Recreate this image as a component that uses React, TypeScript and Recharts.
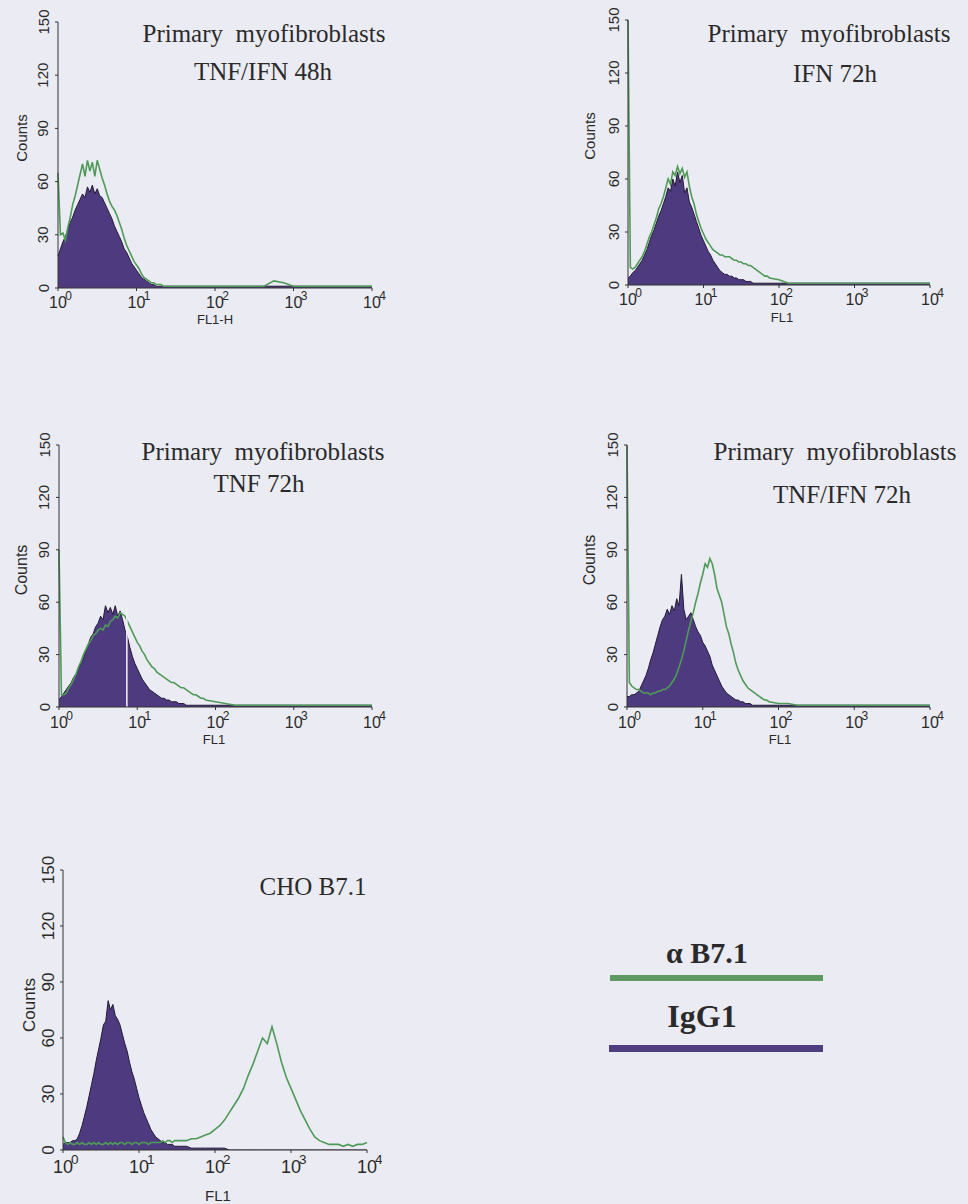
import { Area, ComposedChart, Line, ReferenceLine, XAxis, YAxis } from "recharts";

const BG = "#ebebf3";
const GREEN = "#4f9a58";
const PURPLE = "#4e3a7e";
const OUTLINE = "#241a36";
const INK = "#2a2a2a";
const SANS = '"Liberation Sans Narrow", "Arial Narrow", "Liberation Sans", Arial, sans-serif';
const SERIF = '"Liberation Serif", "Times New Roman", serif';

// y ticks (counts) and x ticks (channel of each decade, 10^0 .. 10^4)
const COUNT_TICKS = [0, 30, 60, 90, 120, 150];
const DECADE_TICKS = [0, 256, 512, 768, 1024];
const DECADE_EXP = ["0", "1", "2", "3", "4"];

// channels for the myofibroblast panels
const CH_A = [
  0, 8, 16, 24, 32, 40, 48, 56, 64, 72, 80, 88, 96, 104, 112, 120, 128, 136, 144, 152,
  160, 168, 176, 184, 192, 200, 208, 216, 224, 232, 240, 248, 256, 264, 272, 280, 288, 296, 304, 312,
  320, 328, 336, 344, 352, 360, 368, 376, 384, 392, 400, 408, 416, 424, 432, 440, 448, 456, 464, 472,
  480, 512, 544, 576, 608, 640, 672, 704, 736, 768, 800, 832, 864, 896, 928, 960, 992, 1024,
];

// channels for the CHO panel
const CH_B = [
  0, 8, 16, 24, 32, 40, 48, 56, 64, 72, 80, 88, 96, 104, 112, 120, 128, 136, 144, 152,
  160, 168, 176, 184, 192, 200, 208, 216, 224, 232, 240, 248, 256, 264, 272, 280, 288, 296, 304, 312,
  320, 328, 336, 344, 352, 360, 368, 376, 384, 392, 400,
  416, 432, 448, 464, 480, 496, 512, 528, 544, 560, 576, 592, 608, 624, 640, 656, 672, 688, 704, 720,
  736, 752, 768, 784, 800, 816, 832, 848, 864, 880, 896, 912, 928, 944, 960, 976, 992, 1008, 1024,
];

// TNF/IFN 48h
const P1_IGG = [
  18, 22, 26, 29, 33, 37, 40, 44, 47, 50, 53, 51, 57, 54, 58, 53, 56, 52, 51, 48,
  45, 42, 39, 35, 32, 29, 26, 22, 20, 17, 14, 12, 10, 8, 6, 5, 4, 3, 2, 2,
  1, 1, 1, 1, 1, 1, 1, 1, 1, 1, 1, 1, 1, 1, 1, 1, 1, 1, 1, 1,
  1, 1, 1, 1, 1, 1, 1, 1, 1, 1, 1, 1, 1, 1, 1, 1, 1, 1,
];
const P1_B71 = [
  65, 30, 31, 27, 34, 40, 47, 52, 58, 64, 70, 63, 72, 66, 71, 63, 72, 67, 62, 58,
  53, 49, 46, 44, 41, 37, 33, 28, 24, 21, 18, 15, 13, 11, 8, 6, 5, 4, 3, 3,
  2, 2, 2, 1, 1, 1, 1, 1, 1, 1, 1, 1, 1, 1, 1, 1, 1, 1, 1, 1,
  1, 1, 1, 1, 1, 1, 1, 4, 3, 1, 1, 1, 1, 1, 1, 1, 1, 1,
];

// IFN 72h
const P2_IGG = [
  4, 5, 7, 8, 10, 12, 14, 17, 20, 24, 28, 31, 35, 39, 42, 46, 50, 55, 53, 60,
  56, 64, 58, 62, 52, 55, 47, 44, 40, 36, 32, 28, 25, 22, 19, 17, 14, 12, 10, 8,
  7, 6, 6, 5, 5, 4, 4, 3, 3, 3, 2, 2, 2, 1, 1, 1, 1, 1, 1, 1,
  1, 1, 1, 1, 1, 1, 1, 1, 1, 1, 1, 1, 1, 1, 1, 1, 1, 1,
];
const P2_B71 = [
  150, 10, 9, 10, 12, 14, 16, 19, 23, 27, 30, 34, 38, 43, 46, 50, 55, 60, 57, 64,
  62, 67, 63, 66, 61, 64, 56, 50, 46, 40, 36, 32, 29, 26, 24, 22, 20, 19, 18, 17,
  17, 16, 16, 16, 15, 14, 14, 13, 13, 12, 12, 11, 11, 10, 9, 8, 7, 6, 5, 5,
  4, 3, 1, 1, 1, 1, 1, 1, 1, 1, 1, 1, 1, 1, 1, 1, 1, 1,
];

// TNF 72h
const P3_IGG = [
  4, 6, 8, 10, 12, 14, 17, 19, 22, 25, 28, 32, 36, 40, 42, 46, 48, 52, 50, 58,
  54, 57, 53, 58, 52, 55, 50, 44, 40, 34, 29, 25, 22, 19, 16, 14, 12, 10, 9, 8,
  7, 6, 5, 5, 4, 4, 3, 3, 3, 2, 2, 2, 1, 1, 1, 1, 1, 1, 1, 1,
  1, 1, 1, 1, 1, 1, 1, 1, 1, 1, 1, 1, 1, 1, 1, 1, 1, 1,
];
const P3_B71 = [
  90, 7, 7, 8, 11, 13, 16, 19, 23, 26, 30, 33, 36, 38, 41, 42, 44, 45, 44, 47,
  46, 49, 50, 52, 51, 54, 53, 52, 49, 46, 43, 40, 37, 35, 32, 30, 27, 25, 23, 22,
  20, 19, 18, 17, 16, 15, 14, 14, 13, 12, 11, 11, 10, 9, 8, 7, 7, 6, 5, 5,
  4, 3, 2, 1, 1, 1, 1, 1, 1, 1, 1, 1, 1, 1, 1, 1, 1, 1,
];

// TNF/IFN 72h
const P4_IGG = [
  6, 6, 7, 7, 8, 9, 12, 15, 18, 22, 27, 31, 36, 41, 46, 50, 52, 56, 53, 58,
  55, 62, 58, 76, 56, 50, 52, 54, 50, 46, 43, 41, 37, 35, 32, 29, 24, 21, 18, 15,
  12, 10, 8, 7, 6, 5, 4, 4, 3, 3, 2, 2, 2, 1, 1, 1, 1, 1, 1, 1,
  1, 1, 1, 1, 1, 1, 1, 1, 1, 1, 1, 1, 1, 1, 1, 1, 1, 1,
];
const P4_B71 = [
  150, 14, 12, 11, 10, 10, 9, 8, 8, 8, 7, 8, 8, 9, 9, 10, 10, 11, 12, 14,
  16, 19, 23, 27, 32, 38, 44, 49, 54, 60, 65, 71, 76, 82, 80, 85, 82, 76, 68, 64,
  60, 53, 46, 42, 36, 31, 25, 21, 18, 15, 13, 11, 10, 9, 8, 7, 6, 5, 4, 4,
  3, 2, 2, 1, 1, 1, 1, 1, 1, 1, 1, 1, 1, 1, 1, 1, 1, 1,
];

// CHO B7.1
const P5_IGG = [
  3, 4, 4, 4, 5, 5, 6, 9, 13, 18, 23, 29, 35, 41, 48, 54, 60, 67, 69, 80,
  75, 78, 72, 70, 67, 62, 57, 53, 47, 42, 38, 33, 28, 24, 20, 17, 14, 11, 9, 7,
  6, 5, 4, 4, 3, 3, 3, 2, 2, 2, 2,
  2, 1, 1, 1, 1, 1, 1, 1, 1, 0, 0, 0, 0, 0, 0, 0, 0, 0, 0, 0,
  0, 0, 0, 0, 0, 0, 0, 0, 0, 0, 0, 0, 0, 0, 0, 0, 0, 0, 0,
];
const P5_B71 = [
  7, 4, 3, 4, 3, 3, 4, 3, 4, 3, 3, 4, 3, 4, 3, 4, 3, 3, 4, 3,
  4, 3, 4, 3, 4, 4, 3, 4, 4, 3, 4, 4, 3, 4, 4, 4, 3, 4, 4, 4,
  4, 4, 5, 4, 5, 5, 4, 5, 5, 5, 5,
  5, 6, 6, 7, 8, 9, 11, 13, 16, 20, 24, 28, 33, 40, 46, 53, 60, 57, 66, 57,
  47, 39, 33, 27, 21, 16, 11, 7, 5, 4, 3, 3, 3, 2, 3, 2, 3, 3, 4,
];

type Panel = {
  chs: number[];
  igg: number[];
  b71: number[];
  x0: number;
  x1: number;
  yTop: number;
  yBase: number;
  tickFont: number;
  tickDrop: number;
  xLabel: string;
  xLabelPos: [number, number];
  xLabelFont: number;
  countsPos: [number, number];
  countsFont: number;
  title: { text: string; cx: number; base: number }[];
  artifact?: number;
};

const PANELS: Panel[] = [
  {
    chs: CH_A, igg: P1_IGG, b71: P1_B71,
    x0: 58, x1: 372, yTop: 22, yBase: 288, tickFont: 16, tickDrop: 14,
    xLabel: "FL1-H", xLabelPos: [215, 320], xLabelFont: 13,
    countsPos: [22, 138], countsFont: 15,
    title: [
      { text: "Primary  myofibroblasts", cx: 264, base: 42 },
      { text: "TNF/IFN 48h", cx: 263, base: 80 },
    ],
  },
  {
    chs: CH_A, igg: P2_IGG, b71: P2_B71,
    x0: 628, x1: 930, yTop: 20, yBase: 285, tickFont: 16, tickDrop: 14,
    xLabel: "FL1", xLabelPos: [782, 318], xLabelFont: 13,
    countsPos: [590, 136], countsFont: 15,
    title: [
      { text: "Primary  myofibroblasts", cx: 829, base: 42 },
      { text: "IFN 72h", cx: 835, base: 82 },
    ],
  },
  {
    chs: CH_A, igg: P3_IGG, b71: P3_B71,
    x0: 59, x1: 372, yTop: 445, yBase: 707, tickFont: 16, tickDrop: 15,
    xLabel: "FL1", xLabelPos: [214, 740], xLabelFont: 13,
    countsPos: [22, 570], countsFont: 16,
    title: [
      { text: "Primary  myofibroblasts", cx: 263, base: 460 },
      { text: "TNF 72h", cx: 259, base: 492 },
    ],
    artifact: 222,
  },
  {
    chs: CH_A, igg: P4_IGG, b71: P4_B71,
    x0: 627, x1: 930, yTop: 445, yBase: 707, tickFont: 16, tickDrop: 15,
    xLabel: "FL1", xLabelPos: [780, 740], xLabelFont: 13,
    countsPos: [590, 560], countsFont: 16,
    title: [
      { text: "Primary  myofibroblasts", cx: 835, base: 460 },
      { text: "TNF/IFN 72h", cx: 842, base: 503 },
    ],
  },
  {
    chs: CH_B, igg: P5_IGG, b71: P5_B71,
    x0: 63, x1: 367, yTop: 870, yBase: 1150, tickFont: 18, tickDrop: 17,
    xLabel: "FL1", xLabelPos: [218, 1196], xLabelFont: 15,
    countsPos: [30, 1005], countsFont: 17,
    title: [{ text: "CHO B7.1", cx: 313, base: 895 }],
  },
];

const TOP_PAD = 22;

function makeDecadeTick(font: number, drop: number) {
  return (props: any) => {
    const { x, y, payload } = props;
    const exp = DECADE_EXP[DECADE_TICKS.indexOf(payload.value)];
    const axisY = y - 3;
    return (
      <g>
        <text x={x} y={axisY + drop + font * 0.36} textAnchor="middle" fontSize={font} fontFamily={SANS} fill={INK}>
          10
        </text>
        <text x={x + font * 0.45} y={axisY + drop - font * 0.15} fontSize={font * 0.75} fontFamily={SANS} fill={INK}>
          {exp}
        </text>
      </g>
    );
  };
}

function makeCountTick(font: number) {
  return (props: any) => {
    const { x, y, payload } = props;
    const cx = x - 12;
    return (
      <text
        x={cx}
        y={y}
        transform={`rotate(-90 ${cx} ${y})`}
        textAnchor="middle"
        dominantBaseline="central"
        fontSize={font}
        fontFamily={SANS}
        fill={INK}
      >
        {payload.value}
      </text>
    );
  };
}

function Serif({ text, cx, base, size, bold }: { text: string; cx: number; base: number; size: number; bold?: boolean }) {
  return (
    <div
      style={{
        position: "absolute",
        left: cx - 200,
        top: base - size * 0.8375,
        width: 400,
        textAlign: "center",
        fontFamily: SERIF,
        fontSize: size,
        lineHeight: 1,
        fontWeight: bold ? 700 : 400,
        whiteSpace: "pre",
        color: INK,
      }}
    >
      {text}
    </div>
  );
}

function Histogram({ p }: { p: Panel }) {
  const w = p.x1 - p.x0 + 60 + 15;
  const h = p.yBase - p.yTop + TOP_PAD + 60;
  const rows = p.chs.map((ch, i) => ({ ch, igg: p.igg[i], b71: p.b71[i] }));
  return (
    <>
      <div style={{ position: "absolute", left: p.x0 - 60, top: p.yTop - TOP_PAD }}>
        <ComposedChart width={w} height={h} data={rows} margin={{ top: TOP_PAD, right: 15, bottom: 0, left: 0 }}>
          <XAxis
            type="number"
            dataKey="ch"
            domain={[0, 1024]}
            ticks={DECADE_TICKS}
            interval={0}
            height={60}
            tickSize={3}
            tickMargin={0}
            stroke="#333"
            tick={makeDecadeTick(p.tickFont, p.tickDrop)}
          />
          <YAxis
            type="number"
            domain={[0, 150]}
            ticks={COUNT_TICKS}
            interval={0}
            width={60}
            tickSize={3}
            tickMargin={0}
            stroke="#333"
            allowDataOverflow
            tick={makeCountTick(p.tickFont - 1)}
          />
          <Area
            dataKey="igg"
            type="linear"
            fill={PURPLE}
            fillOpacity={1}
            stroke={OUTLINE}
            strokeWidth={1}
            dot={false}
            activeDot={false}
            isAnimationActive={false}
          />
          <Line
            dataKey="b71"
            type="linear"
            stroke={GREEN}
            strokeWidth={1.6}
            dot={false}
            activeDot={false}
            isAnimationActive={false}
          />
          {p.artifact !== undefined && (
            <ReferenceLine
              segment={[
                { x: p.artifact, y: 0 },
                { x: p.artifact, y: 57 },
              ]}
              stroke="#f4f4f8"
              strokeWidth={1.5}
            />
          )}
        </ComposedChart>
      </div>
      <div
        style={{
          position: "absolute",
          left: p.countsPos[0] - 50,
          top: p.countsPos[1] - 10,
          width: 100,
          height: 20,
          lineHeight: "20px",
          textAlign: "center",
          transform: "rotate(-90deg)",
          fontFamily: SANS,
          fontSize: p.countsFont,
          color: INK,
        }}
      >
        Counts
      </div>
      <div
        style={{
          position: "absolute",
          left: p.xLabelPos[0] - 50,
          top: p.xLabelPos[1] - 10,
          width: 100,
          height: 20,
          lineHeight: "20px",
          textAlign: "center",
          fontFamily: SANS,
          fontSize: p.xLabelFont,
          color: INK,
        }}
      >
        {p.xLabel}
      </div>
      {p.title.map((t) => (
        <Serif key={t.text} text={t.text} cx={t.cx} base={t.base} size={25} />
      ))}
    </>
  );
}

export default function App() {
  return (
    <div style={{ position: "absolute", left: 0, top: 0, width: 968, height: 1204, background: BG, overflow: "hidden" }}>
      {PANELS.map((p, i) => (
        <Histogram key={i} p={p} />
      ))}
      <Serif text="α B7.1" cx={707} base={963} size={30} bold />
      <div style={{ position: "absolute", left: 610, top: 975, width: 213, height: 6, background: "#5c9a62" }} />
      <Serif text="IgG1" cx={702} base={1027} size={32} bold />
      <div style={{ position: "absolute", left: 609, top: 1045, width: 214, height: 7, background: "#4f3f80" }} />
    </div>
  );
}
